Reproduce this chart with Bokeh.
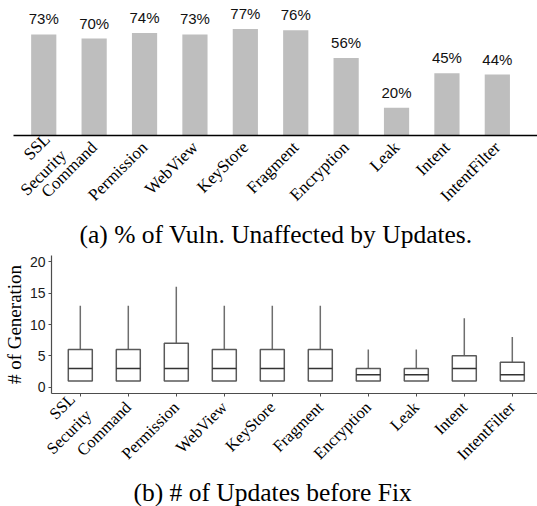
import math
from bokeh.plotting import figure
from bokeh.models import Range1d, FixedTicker, Title
from bokeh.embed import file_html
from bokeh.resources import INLINE
from bokeh.core.properties import value

categories = ["SSL\nSecurity", "Command", "Permission", "WebView", "KeyStore",
              "Fragment", "Encryption", "Leak", "Intent", "IntentFilter"]
unaffected_pct = [73, 70, 74, 73, 77, 76, 56, 20, 45, 44]
whisker_low = [1, 1, 1, 1, 1, 1, 1, 1, 1, 1]
q1 = [1, 1, 1, 1, 1, 1, 1, 1, 1, 1]
median = [3, 3, 3, 3, 3, 3, 2, 2, 3, 2]
q3 = [6, 6, 7, 6, 6, 6, 3, 3, 5, 4]
whisker_high = [13, 13, 16, 13, 13, 13, 6, 6, 11, 8]
y_ticks = [0, 5, 10, 15, 20]
caption_a = "(a) % of Vuln. Unaffected by Updates."
caption_b = "(b) # of Updates before Fix"
y_label_b = "# of Generation"

xs = list(range(1, len(categories) + 1))
overrides = {x: c for x, c in zip(xs, categories)}
SERIF = "Liberation Serif"
SANS = "Liberation Sans"


def style_xaxis(a, size, standoff):
    a.ticker = FixedTicker(ticks=xs)
    a.major_label_overrides = overrides
    a.major_label_orientation = math.pi / 4
    a.major_label_text_font = SERIF
    a.major_label_text_font_size = size
    a.major_label_text_color = "#000000"
    a.major_label_text_align = "right"
    a.major_label_standoff = standoff
    a.minor_tick_line_color = None


# ---------- top: bar chart ----------
p1 = figure(width=537, height=255, x_range=Range1d(0.4, 10.797), y_range=Range1d(0, 97.5),
            output_backend="svg", toolbar_location=None,
            min_border_left=13, min_border_right=0, min_border_top=0, min_border_bottom=120)
p1.vbar(x=xs, top=unaffected_pct, width=0.5, fill_color="#bebebe", line_color=None)
p1.text(x=xs, y=unaffected_pct, text=[f"{v}%" for v in unaffected_pct],
        text_align="center", text_baseline="bottom", y_offset=-7,
        text_font=value(SANS), text_font_size="15px", text_color="#111111")
p1.yaxis.visible = False
p1.grid.visible = False
p1.outline_line_color = None
ax = p1.xaxis[0]
style_xaxis(ax, "17px", 3)
ax.major_tick_line_color = None
ax.axis_line_color = "#000000"
ax.axis_line_width = 1.5
p1.add_layout(Title(text=caption_a, align="left", offset=66, standoff=0,
                    text_font=SERIF, text_font_size="25.5px", text_font_style="normal",
                    text_color="#000000"), "below")

# ---------- bottom: box plot ----------
p2 = figure(width=537, height=251, x_range=Range1d(0.4, 10.525), y_range=Range1d(-1, 21),
            output_backend="svg", toolbar_location=None,
            min_border_left=51, min_border_right=0, min_border_top=0, min_border_bottom=113)
p2.segment(x0=xs, y0=q3, x1=xs, y1=whisker_high, line_color="#6e6e6e", line_width=1.5)
p2.segment(x0=xs, y0=whisker_low, x1=xs, y1=q1, line_color="#6e6e6e", line_width=1.5)
p2.vbar(x=xs, bottom=q1, top=q3, width=0.5, fill_color="white",
        line_color="#595959", line_width=1.5)
p2.vbar(x=xs, bottom=median, top=median, width=0.5, fill_color=None,
        line_color="#333333", line_width=1.5)
p2.grid.visible = False
p2.outline_line_color = None

bx = p2.xaxis[0]
style_xaxis(bx, "16.5px", 8)
bx.major_tick_in = 0
bx.major_tick_out = 3
bx.major_tick_line_color = "#4d4d4d"
bx.axis_line_color = "#4d4d4d"
bx.axis_line_width = 1.2

by = p2.yaxis[0]
by.ticker = FixedTicker(ticks=y_ticks)
by.major_label_text_font = SANS
by.major_label_text_font_size = "14px"
by.major_label_text_color = "#1a1a1a"
by.major_label_standoff = 3
by.major_tick_in = 0
by.major_tick_out = 3
by.major_tick_line_color = "#4d4d4d"
by.minor_tick_line_color = None
by.axis_line_color = "#4d4d4d"
by.axis_line_width = 1.2
by.axis_label = y_label_b
by.axis_label_text_font = SERIF
by.axis_label_text_font_size = "19px"
by.axis_label_text_font_style = "normal"
by.axis_label_text_color = "#000000"
by.axis_label_standoff = 2

p2.add_layout(Title(text=caption_b, align="left", offset=82, standoff=0,
                    text_line_height=0.8,
                    text_font=SERIF, text_font_size="25.5px", text_font_style="normal",
                    text_color="#000000"), "below")

open("out.html", "w").write(file_html([p1, p2], INLINE))
